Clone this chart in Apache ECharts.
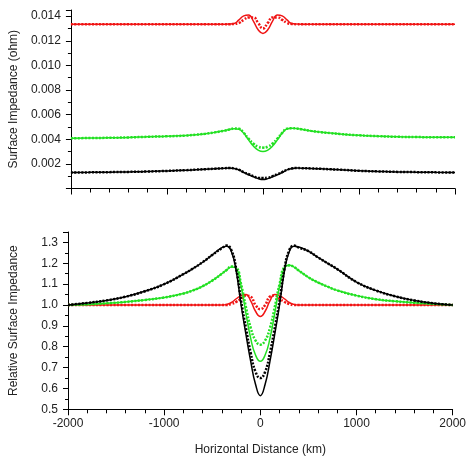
<!DOCTYPE html>
<html>
<head>
<meta charset="utf-8">
<script src="https://cdn.jsdelivr.net/npm/echarts@6/dist/echarts.min.js"></script>
<style>
  html, body { margin: 0; padding: 0; background: #fff; }
  #chart { width: 469px; height: 458px; }
</style>
</head>
<body>
<div id="chart"></div>
<script>
// horizontal distance (km), shared by all curves
var distKm = [-2000, -1800, -1600, -1400, -1200, -1000, -800, -700, -600, -500, -400, -350, -300, -250, -200, -150, -100, -50, 0,
  50, 100, 150, 200, 250, 300, 350, 400, 500, 600, 700, 800, 1000, 1200, 1400, 1600, 1800, 2000]

// upper panel: surface impedance (ohm)
var zRedLine = [0.01335, 0.01335, 0.01335, 0.01335, 0.01335, 0.01335, 0.01335, 0.01335, 0.01335, 0.01335, 0.01335, 0.01336, 0.0134, 0.0137, 0.01402, 0.0141, 0.0136, 0.0129, 0.0126,
  0.0129, 0.0136, 0.0141, 0.01402, 0.0137, 0.0134, 0.01336, 0.01335, 0.01335, 0.01335, 0.01335, 0.01335, 0.01335, 0.01335, 0.01335, 0.01335, 0.01335, 0.01335]
var zRedDots = [0.01335, 0.01335, 0.01335, 0.01335, 0.01335, 0.01335, 0.01335, 0.01335, 0.01335, 0.01335, 0.01335, 0.01335, 0.01337, 0.01345, 0.0137, 0.0139, 0.0139, 0.01345, 0.013,
  0.01345, 0.0139, 0.0139, 0.0137, 0.01345, 0.01337, 0.01335, 0.01335, 0.01335, 0.01335, 0.01335, 0.01335, 0.01335, 0.01335, 0.01335, 0.01335, 0.01335, 0.01335]
var zGreenLine = [0.00408, 0.0041, 0.00412, 0.00415, 0.0042, 0.00424, 0.0043, 0.00437, 0.00445, 0.00456, 0.0047, 0.00479, 0.00486, 0.00482, 0.00448, 0.00395, 0.00345, 0.00312, 0.003,
  0.00312, 0.00345, 0.00395, 0.00448, 0.00484, 0.0049, 0.00488, 0.00482, 0.00468, 0.00458, 0.0045, 0.00443, 0.00432, 0.00425, 0.0042, 0.00418, 0.00416, 0.00416]
var zGreenDots = [0.00408, 0.0041, 0.00412, 0.00415, 0.0042, 0.00424, 0.0043, 0.00437, 0.00445, 0.00456, 0.0047, 0.00479, 0.00487, 0.00485, 0.00452, 0.00405, 0.00365, 0.0034, 0.00332,
  0.0034, 0.00365, 0.00405, 0.00452, 0.00486, 0.0049, 0.00488, 0.00482, 0.00468, 0.00458, 0.0045, 0.00443, 0.00432, 0.00425, 0.0042, 0.00418, 0.00416, 0.00416]
var zBlackLine = [0.0013, 0.00131, 0.00133, 0.00135, 0.00138, 0.00143, 0.00149, 0.00153, 0.00157, 0.00161, 0.00165, 0.00166, 0.00162, 0.00151, 0.0013, 0.00112, 0.00095, 0.0008, 0.00073,
  0.0008, 0.00095, 0.00112, 0.0013, 0.00151, 0.00162, 0.00166, 0.00165, 0.00163, 0.0016, 0.00156, 0.00153, 0.00144, 0.00139, 0.00135, 0.00133, 0.00131, 0.0013]
var zBlackDots = [0.0013, 0.00131, 0.00133, 0.00135, 0.00138, 0.00143, 0.00149, 0.00153, 0.00157, 0.00161, 0.00165, 0.00166, 0.00163, 0.00152, 0.00133, 0.00116, 0.001, 0.00088, 0.00085,
  0.00088, 0.001, 0.00116, 0.00133, 0.00152, 0.00163, 0.00166, 0.00165, 0.00163, 0.0016, 0.00156, 0.00153, 0.00144, 0.00139, 0.00135, 0.00133, 0.00131, 0.0013]

// lower panel: relative surface impedance
var relRedLine = [1.0, 1.0, 1.0, 1.0, 1.0, 1.0, 1.0, 1.0, 1.0, 1.0, 1.0, 1.003, 1.012, 1.03, 1.045, 1.05, 1.02, 0.97, 0.945,
  0.97, 1.02, 1.05, 1.045, 1.03, 1.012, 1.003, 1.0, 1.0, 1.0, 1.0, 1.0, 1.0, 1.0, 1.0, 1.0, 1.0, 1.0]
var relRedDots = [1.0, 1.0, 1.0, 1.0, 1.0, 1.0, 1.0, 1.0, 1.0, 1.0, 1.0, 1.0, 1.005, 1.015, 1.03, 1.045, 1.04, 1.0, 0.98,
  1.0, 1.04, 1.045, 1.03, 1.015, 1.005, 1.0, 1.0, 1.0, 1.0, 1.0, 1.0, 1.0, 1.0, 1.0, 1.0, 1.0, 1.0]
var relGreenLine = [1.0, 1.003, 1.008, 1.015, 1.024, 1.036, 1.055, 1.07, 1.09, 1.117, 1.15, 1.168, 1.182, 1.175, 1.09, 0.96, 0.84, 0.76, 0.73,
  0.76, 0.84, 0.96, 1.09, 1.178, 1.19, 1.182, 1.165, 1.133, 1.108, 1.088, 1.07, 1.045, 1.028, 1.018, 1.011, 1.005, 1.0]
var relGreenDots = [1.0, 1.003, 1.008, 1.015, 1.024, 1.036, 1.055, 1.07, 1.09, 1.117, 1.15, 1.168, 1.185, 1.18, 1.1, 0.99, 0.89, 0.83, 0.81,
  0.83, 0.89, 0.99, 1.1, 1.182, 1.19, 1.182, 1.165, 1.133, 1.108, 1.088, 1.07, 1.045, 1.028, 1.018, 1.011, 1.005, 1.0]
var relBlackLine = [1.0, 1.01, 1.022, 1.04, 1.066, 1.1, 1.148, 1.175, 1.205, 1.24, 1.275, 1.282, 1.255, 1.16, 1.0, 0.86, 0.73, 0.62, 0.565,
  0.62, 0.73, 0.86, 1.0, 1.16, 1.255, 1.282, 1.278, 1.258, 1.228, 1.2, 1.172, 1.11, 1.07, 1.042, 1.022, 1.008, 1.0]
var relBlackDots = [1.0, 1.01, 1.022, 1.04, 1.066, 1.1, 1.148, 1.175, 1.205, 1.24, 1.272, 1.285, 1.262, 1.17, 1.02, 0.89, 0.77, 0.68, 0.65,
  0.68, 0.77, 0.89, 1.02, 1.17, 1.262, 1.285, 1.275, 1.258, 1.228, 1.2, 1.172, 1.11, 1.07, 1.042, 1.022, 1.008, 1.0]

var RED = '#f01414'
var GREEN = '#22e022'
var BLACK = '#000000'

function pairs (ys) {
  return distKm.map(function (x, i) { return [x, ys[i]] })
}

function curve (name, ys, color, dotted, gridIdx) {
  return {
    name: name,
    type: 'line',
    xAxisIndex: gridIdx,
    yAxisIndex: gridIdx,
    data: pairs(ys),
    smooth: 0.5,
    showSymbol: false,
    animation: false,
    lineStyle: dotted
      ? { color: color, width: 2.5, type: [2, 1.5] }
      : { color: color, width: 1.5 },
    itemStyle: { color: color }
  }
}

var txt = { color: '#222', fontFamily: 'Liberation Sans, Arial, sans-serif', fontSize: 12 }

function xAxisCfg (gridIdx, withLabels) {
  return {
    type: 'value',
    gridIndex: gridIdx,
    min: -2000,
    max: 2000,
    interval: 1000,
    name: withLabels ? 'Horizontal Distance (km)' : '',
    nameLocation: 'middle',
    nameGap: 34,
    nameTextStyle: txt,
    axisLine: { onZero: false, lineStyle: { color: '#000', width: 1 } },
    axisTick: { show: true, length: 6, lineStyle: { color: '#000' } },
    minorTick: { show: true, splitNumber: 5, length: 4, lineStyle: { color: '#000' } },
    axisLabel: Object.assign({
      show: withLabels,
      margin: 8,
      formatter: function (v) { return String(v) }
    }, txt),
    splitLine: { show: false }
  }
}

function yAxisCfg (gridIdx, name, min, max, step, digits, gap) {
  return {
    type: 'value',
    gridIndex: gridIdx,
    min: min,
    max: max,
    interval: step,
    name: name,
    nameLocation: 'middle',
    nameGap: gap,
    nameTextStyle: txt,
    axisLine: { show: true, onZero: false, lineStyle: { color: '#000', width: 1 } },
    axisTick: { show: true, length: 5, lineStyle: { color: '#000' } },
    minorTick: { show: true, splitNumber: 2, length: 3, lineStyle: { color: '#000' } },
    axisLabel: Object.assign({
      margin: 10,
      formatter: function (v) {
        // only label the regular steps, skip zero and the top end
        if (v <= 0 || Math.abs(v / step - Math.round(v / step)) > 1e-6) return ''
        return v.toFixed(digits)
      }
    }, txt),
    splitLine: { show: false }
  }
}

var chart = echarts.init(document.getElementById('chart'))
chart.setOption({
  backgroundColor: '#fff',
  animation: false,
  grid: [
    { left: 64, right: 14, top: 10, height: 178.5 },
    { left: 64, right: 14, top: 232, height: 177.3 }
  ],
  xAxis: [xAxisCfg(0, false), xAxisCfg(1, true)],
  yAxis: [
    yAxisCfg(0, 'Surface Impedance (ohm)', 0, 0.0145, 0.002, 3, 50),
    yAxisCfg(1, 'Relative Surface Impedance', 0.5, 1.35, 0.1, 1, 48)
  ],
  series: [
    curve('red dots', zRedDots, RED, true, 0),
    curve('red line', zRedLine, RED, false, 0),
    curve('green dots', zGreenDots, GREEN, true, 0),
    curve('green line', zGreenLine, GREEN, false, 0),
    curve('black dots', zBlackDots, BLACK, true, 0),
    curve('black line', zBlackLine, BLACK, false, 0),
    curve('red dots', relRedDots, RED, true, 1),
    curve('red line', relRedLine, RED, false, 1),
    curve('green dots', relGreenDots, GREEN, true, 1),
    curve('green line', relGreenLine, GREEN, false, 1),
    curve('black dots', relBlackDots, BLACK, true, 1),
    curve('black line', relBlackLine, BLACK, false, 1)
  ]
})
</script>
</body>
</html>
